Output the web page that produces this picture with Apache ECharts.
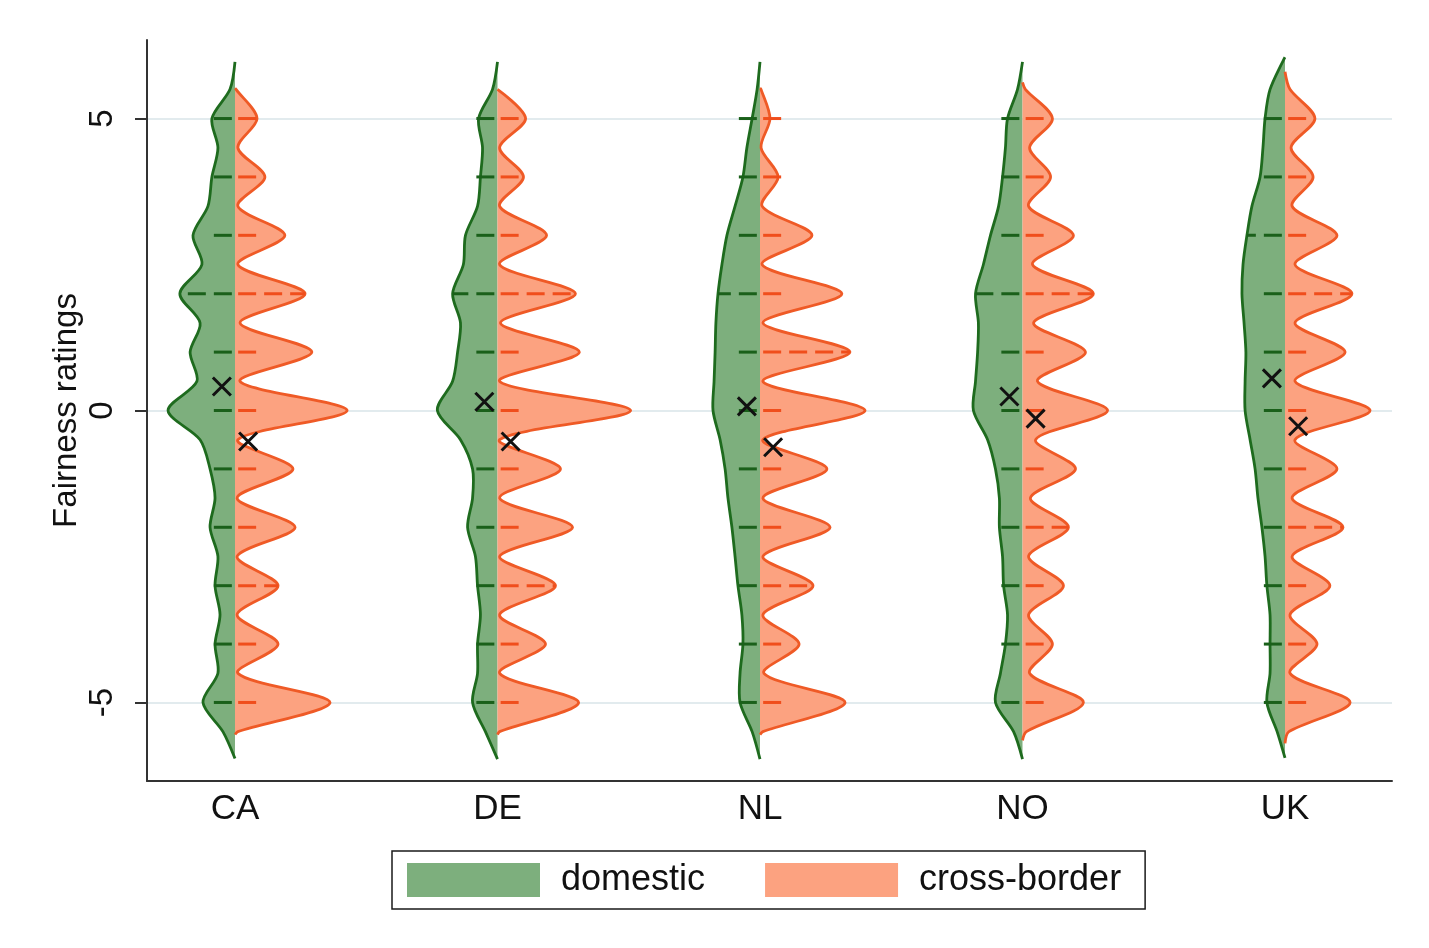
<!DOCTYPE html>
<html>
<head>
<meta charset="utf-8">
<title>Fairness ratings</title>
<script src="https://cdn.jsdelivr.net/npm/echarts@6/dist/echarts.min.js"></script>
<style>
  html, body { margin: 0; padding: 0; background: #fff; }
  #chart { width: 1429px; height: 948px; }
</style>
</head>
<body>
<div id="chart"></div>
<script>
// countries on the x axis
var countries = ['CA', 'DE', 'NL', 'NO', 'UK'];
var yTicks = [-5, 0, 5];

// rating levels where the violin half-widths were read (bottom to top)
var levels = [-5.5, -5, -4.5, -4, -3.5, -3, -2.5, -2, -1.5, -1, -0.5, 0,
              0.5, 1, 1.5, 2, 2.5, 3, 3.5, 4, 4.5, 5, 5.5];

// half-widths of the density, in x-axis units (one country = 1)
var domesticCA = [0.046, 0.122, 0.065, 0.076, 0.057, 0.076, 0.065, 0.095, 0.076, 0.095, 0.133, 0.255,
                  0.145, 0.171, 0.133, 0.210, 0.126, 0.160, 0.103, 0.088, 0.065, 0.088, 0.019];
var domesticDE = [0.046, 0.095, 0.076, 0.076, 0.065, 0.076, 0.084, 0.114, 0.095, 0.095, 0.141, 0.229,
                  0.171, 0.152, 0.141, 0.171, 0.130, 0.122, 0.076, 0.065, 0.057, 0.072, 0.019];
var domesticNL = [0.030, 0.076, 0.076, 0.065, 0.069, 0.084, 0.095, 0.107, 0.122, 0.133, 0.152, 0.179,
                  0.175, 0.171, 0.168, 0.160, 0.145, 0.126, 0.095, 0.065, 0.050, 0.030, 0.011];
var domesticNO = [0.034, 0.103, 0.084, 0.065, 0.057, 0.072, 0.076, 0.088, 0.088, 0.103, 0.133, 0.187,
                  0.179, 0.171, 0.168, 0.179, 0.149, 0.122, 0.091, 0.076, 0.065, 0.057, 0.019];
var domesticUK = [0.030, 0.069, 0.057, 0.057, 0.057, 0.069, 0.076, 0.088, 0.103, 0.114, 0.133, 0.152,
                  0.152, 0.149, 0.156, 0.164, 0.160, 0.145, 0.126, 0.095, 0.084, 0.076, 0.057];

var crossCA = [0.011, 0.362, 0.011, 0.164, 0.008, 0.164, 0.008, 0.229, 0.008, 0.221, 0.011, 0.427,
               0.019, 0.293, 0.019, 0.267, 0.011, 0.190, 0.011, 0.114, 0.011, 0.084, 0.004];
var crossDE = [0.008, 0.309, 0.008, 0.183, 0.008, 0.221, 0.008, 0.286, 0.008, 0.240, 0.008, 0.507,
               0.008, 0.312, 0.011, 0.297, 0.008, 0.187, 0.008, 0.099, 0.008, 0.107, 0.004];
var crossNL = [0.011, 0.324, 0.015, 0.149, 0.011, 0.202, 0.011, 0.267, 0.011, 0.255, 0.011, 0.400,
               0.011, 0.343, 0.011, 0.312, 0.008, 0.198, 0.008, 0.069, 0.004, 0.038, 0.004];
var crossNO = [0.015, 0.232, 0.027, 0.114, 0.023, 0.156, 0.023, 0.175, 0.030, 0.202, 0.050, 0.324,
               0.057, 0.240, 0.042, 0.270, 0.038, 0.194, 0.023, 0.107, 0.027, 0.114, 0.011];
var crossUK = [0.015, 0.248, 0.019, 0.122, 0.019, 0.171, 0.027, 0.221, 0.027, 0.198, 0.038, 0.324,
               0.038, 0.229, 0.038, 0.255, 0.038, 0.198, 0.027, 0.107, 0.023, 0.114, 0.019];

// where each violin ends (top, bottom)
var domesticEnds = [[5.97, -5.96], [5.97, -5.97], [5.97, -5.97], [5.97, -5.97], [6.05, -5.95]];
var crossEnds = [[5.52, -5.55], [5.5, -5.55], [5.52, -5.55], [5.62, -5.65], [5.8, -5.7]];

// ratings whose dashed line runs across the whole half violin
var domesticLong = [[2], [2], [2], [2], [3]];
var crossLong = [[2, -3], [2, -3], [1, -3], [2, -2], [2, -2]];

// means (the black crosses)
var domesticMean = [0.41, 0.15, 0.07, 0.24, 0.55];
var crossMean = [-0.53, -0.53, -0.63, -0.14, -0.27];

var domesticWidths = [domesticCA, domesticDE, domesticNL, domesticNO, domesticUK];
var crossWidths = [crossCA, crossDE, crossNL, crossNO, crossUK];

var chart = echarts.init(document.getElementById('chart'));

// half violin: side -1 = left, +1 = right
function halfViolin(side, widths, ends, longs, fill, stroke, dashColor) {
  return function (params, api) {
    var i = params.dataIndex;
    var c = api.value(0);
    var w = widths[i];
    var top = ends[i][0], bottom = ends[i][1];
    var pts = [api.coord([c, bottom])];
    levels.forEach(function (lv, k) {
      if (lv > bottom && lv < top) pts.push(api.coord([c + side * w[k], lv]));
    });
    pts.push(api.coord([c, top]));

    var children = [{
      type: 'polyline',
      shape: { points: pts, smooth: 0.3 },
      style: { fill: fill, stroke: stroke, lineWidth: 2.8 }
    }];

    // dashed marks at each integer rating
    levels.forEach(function (lv, k) {
      if (lv % 1 !== 0) return;
      var len = longs[i].indexOf(lv) >= 0 ? Math.max(w[k], 0.085) : 0.085;
      var p0 = api.coord([c + side * 0.012, lv]);
      var p1 = api.coord([c + side * len, lv]);
      children.push({
        type: 'line',
        shape: { x1: p0[0], y1: p0[1], x2: p1[0], y2: p1[1] },
        style: { stroke: dashColor, lineWidth: 3, lineDash: [18, 8] }
      });
    });
    return { type: 'group', children: children };
  };
}

var centers = countries.map(function (c, i) { return [i + 1]; });

chart.setOption({
  backgroundColor: '#fff',
  animation: false,
  textStyle: { fontFamily: 'Liberation Sans, Arial, sans-serif' },
  grid: { left: 147, right: 37, top: 40, bottom: 167 },
  legend: {
    data: ['domestic', 'cross-border'],
    left: 392,
    top: 851,
    icon: 'rect',
    itemWidth: 133,
    itemHeight: 34,
    itemGap: 60,
    padding: [11, 24, 11, 15],
    borderColor: '#1a1a1a',
    borderWidth: 1.5,
    borderRadius: 0,
    textStyle: { fontSize: 36, color: '#111', padding: [4, 0, 0, 16] }
  },
  xAxis: {
    type: 'value',
    min: 0.6648,
    max: 5.4076,
    splitLine: { show: false },
    axisTick: { show: false },
    axisLine: { show: true, onZero: false, lineStyle: { color: '#333', width: 2 } },
    axisLabel: {
      customValues: [1, 2, 3, 4, 5],
      fontSize: 35,
      color: '#111',
      margin: 11,
      formatter: function (v) { return countries[Math.round(v) - 1]; }
    }
  },
  yAxis: {
    type: 'value',
    min: -6.345,
    max: 6.345,
    name: 'Fairness ratings',
    nameLocation: 'middle',
    nameRotate: 90,
    nameGap: 64,
    nameMoveOverlap: false,
    nameTextStyle: { fontSize: 33, color: '#111' },
    axisLine: { show: true, lineStyle: { color: '#333', width: 2 } },
    axisTick: { show: true, customValues: yTicks, length: 12, lineStyle: { color: '#333', width: 2 } },
    axisLabel: { customValues: yTicks, rotate: 90, fontSize: 33, color: '#111', margin: 28 },
    splitLine: { show: true, lineStyle: { color: '#e2ebee', width: 2 } }
  },
  series: [
    {
      name: 'domestic',
      type: 'custom',
      itemStyle: { color: '#7daf7d' },
      renderItem: halfViolin(-1, domesticWidths, domesticEnds, domesticLong, '#7daf7d', '#1e6b1e', '#1a601a'),
      data: centers,
      z: 2
    },
    {
      name: 'cross-border',
      type: 'custom',
      itemStyle: { color: '#fca280' },
      renderItem: halfViolin(1, crossWidths, crossEnds, crossLong, '#fca280', '#ef5a26', '#f04e1c'),
      data: centers,
      z: 2
    },
    {
      name: 'mean',
      type: 'scatter',
      symbol: 'path://M0,0L10,10M10,0L0,10',
      symbolSize: 18,
      itemStyle: { color: 'transparent', borderColor: '#111', borderWidth: 3, opacity: 1 },
      data: domesticMean.map(function (m, i) { return [i + 1 - 0.05, m]; })
        .concat(crossMean.map(function (m, i) { return [i + 1 + 0.05, m]; })),
      z: 5
    }
  ]
});
</script>
</body>
</html>
